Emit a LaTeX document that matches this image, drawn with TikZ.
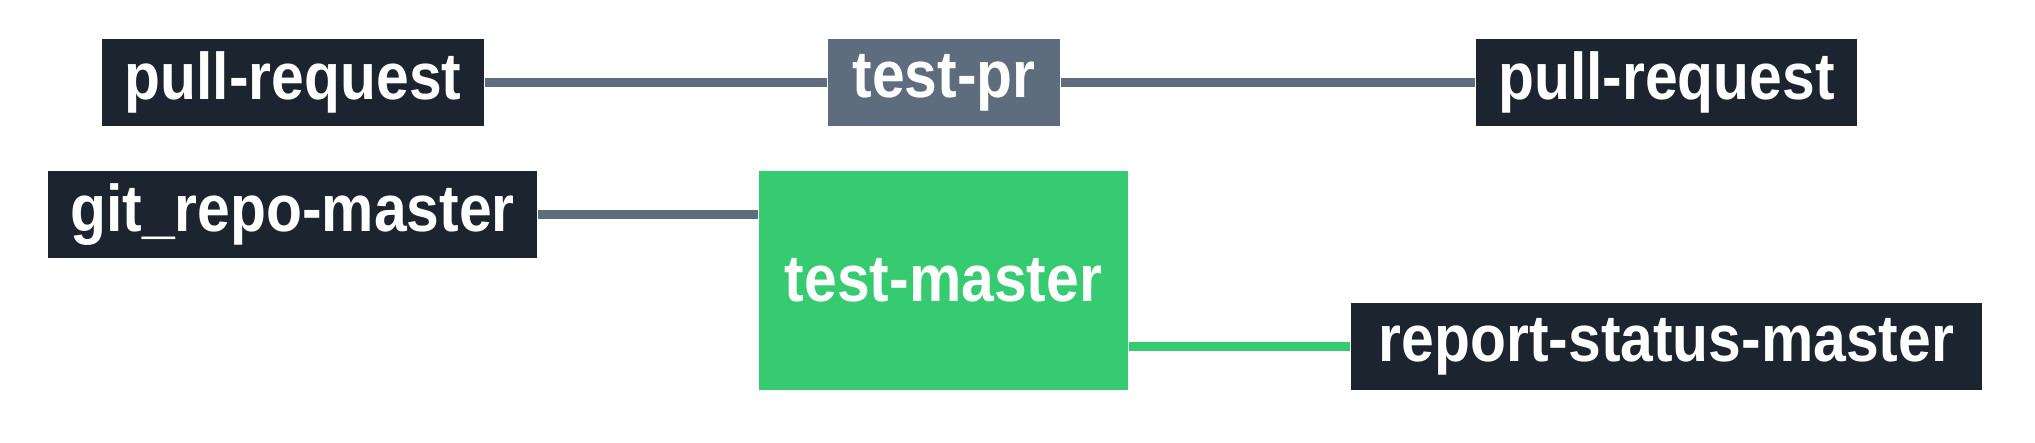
\documentclass[tikz,border=0pt]{standalone}
\usepackage{fontspec}
\setmainfont{Liberation Sans}[FakeStretch=0.89]
\definecolor{jobdark}{HTML}{1C2430}
\definecolor{jobgray}{HTML}{5D6D7E}
\definecolor{jobgreen}{HTML}{36CA71}
\begin{document}
\begin{tikzpicture}[
    job/.style={fill=jobdark,text=white,font=\fontsize{18.8}{20}\selectfont\bfseries,
      minimum height=0.87cm,inner sep=0pt},
    wire/.style={line width=0.09cm,draw=jobgray}
  ]
    \useasboundingbox (0,0) rectangle (20.35,4.43);

    \node[job,minimum width=3.82cm] (pr1) at (2.93,3.605) {pull-request};
    \node[job,fill=jobgray,minimum width=2.32cm] (testpr) at (9.44,3.605) {test-pr};
    \node[job,minimum width=3.81cm] (pr2) at (16.665,3.605) {pull-request};
    \node[job,minimum width=4.89cm] (git) at (2.925,2.285) {git\_repo-master};
    \node[job,fill=jobgreen,minimum width=3.69cm,minimum height=2.19cm] (tm) at (9.435,1.625) {test-master};
    \node[job,minimum width=6.31cm] (report) at (16.665,0.965) {report-status-master};

    \draw [wire] (pr1.east) -- (testpr.west);
    \draw [wire] (testpr.east) -- (pr2.west);
    \draw [wire] (git.east) -- (git.east -| tm.west);
    \draw [wire,draw=jobgreen] (report.west -| tm.east) -- (report.west);
\end{tikzpicture}
\end{document}
